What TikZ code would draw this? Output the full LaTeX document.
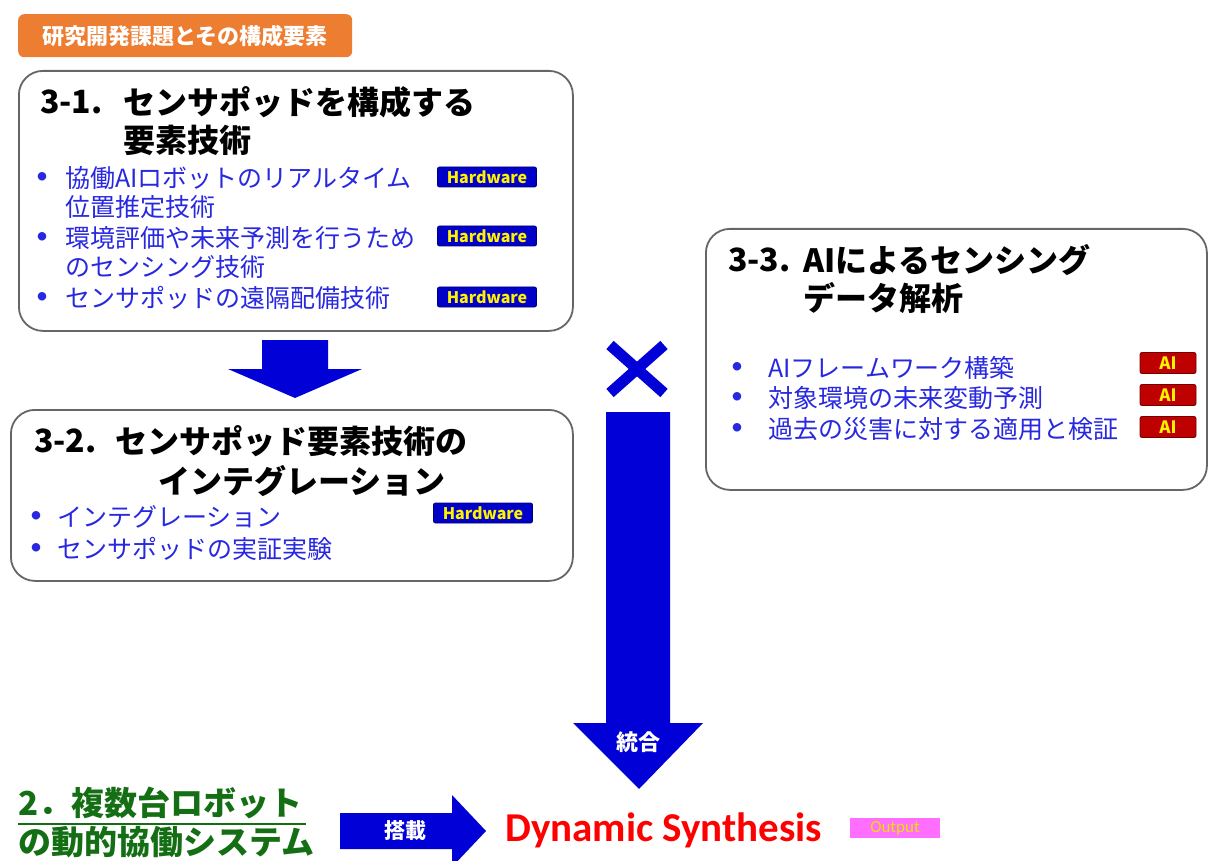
\documentclass[tikz,border=0pt]{standalone}
\usepackage{fontspec}
\newfontfamily\jp{Noto Sans CJK JP}
\newfontfamily\lat{Carlito}
\definecolor{hwblue}{RGB}{0,0,200}
\definecolor{aired}{RGB}{190,0,0}
\definecolor{itemblue}{RGB}{40,40,225}
\definecolor{arrowblue}{RGB}{0,0,215}
\definecolor{tagorange}{RGB}{237,125,49}
\definecolor{dkgreen}{RGB}{20,110,20}
\definecolor{outpink}{RGB}{255,110,255}
\definecolor{outyellow}{RGB}{235,225,0}
\tikzset{
  box/.style={draw=black!60, line width=1.8pt, rounded corners=24pt, fill=white, anchor=north west, inner sep=0pt},
  hw/.style={fill=hwblue, draw=hwblue!60!black, line width=0.8pt, rounded corners=2pt, minimum width=99pt, minimum height=20pt, inner sep=0pt, text=yellow, font=\jp\bfseries\fontsize{16}{16}\selectfont},
  aib/.style={fill=aired, draw=aired!60!black, line width=0.8pt, rounded corners=2pt, minimum width=56pt, minimum height=21pt, inner sep=0pt, text=yellow, font=\jp\bfseries\fontsize{17}{17}\selectfont},
  ttl/.style={anchor=west, inner sep=0pt, font=\jp\bfseries\fontsize{32}{32}\selectfont},
  item/.style={anchor=west, inner sep=0pt, text=itemblue, font=\jp\fontsize{25}{25}\selectfont},
  bul/.style={anchor=center, inner sep=0pt, text=itemblue, font=\lat\fontsize{24}{24}\selectfont},
  blk/.style={fill=arrowblue, draw=none},
  wlabel/.style={inner sep=0pt, text=white, font=\jp\bfseries\fontsize{22}{22}\selectfont},
  grn/.style={anchor=west, inner sep=0pt, text=dkgreen, font=\jp\bfseries\fontsize{33}{33}\selectfont},
}
\begin{document}
\begin{tikzpicture}[x=1pt,y=-1pt]
\useasboundingbox (0,0) rectangle (1208,861);

% tag
\node[fill=tagorange, rounded corners=6pt, anchor=north west, minimum width=334pt, minimum height=43pt, inner sep=0pt] (tag) at (18,14) {};
\node[inner sep=0pt, text=white, font=\jp\bfseries\fontsize{22}{22}\selectfont] (tagt) at (tag.center) {研究開発課題とその構成要素};

% box 3-1
\node[box, minimum width=554pt, minimum height=260pt] (b1) at (18,70) {};
\node[ttl] (b1n) at (40,102) {3-1.};
\node[ttl] (b1t1) at (123,102) {センサポッドを構成する};
\node[ttl] (b1t2) at (123,140) {要素技術};
\node[bul] (b1u1) at (42,178) {•};
\node[item] (b1i1) at (65,178) {協働AIロボットのリアルタイム};
\node[item] (b1i1b) at (65,207) {位置推定技術};
\node[bul] (b1u2) at (42,238) {•};
\node[item] (b1i2) at (65,238) {環境評価や未来予測を行うため};
\node[item] (b1i2b) at (65,267) {のセンシング技術};
\node[bul] (b1u3) at (42,298) {•};
\node[item] (b1i3) at (65,298) {センサポッドの遠隔配備技術};
\node[hw] (hw1) at (487,177) {Hardware};
\node[hw] (hw2) at (487,236) {Hardware};
\node[hw] (hw3) at (487,297) {Hardware};

% arrow b1 -> b2
\fill[blk] (262,340) -- (328,340) -- (328,369) -- (362,369) -- (295,398) -- (228,369) -- (262,369) -- cycle;

% box 3-2
\node[box, minimum width=562pt, minimum height=171pt] (b2) at (10,409) {};
\node[ttl] (b2n) at (34,441) {3-2.};
\node[ttl] (b2t1) at (115,441) {センサポッド要素技術の};
\node[ttl] (b2t2) at (158,481) {インテグレーション};
\node[bul] (b2u1) at (36,517) {•};
\node[item] (b2i1) at (57,517) {インテグレーション};
\node[bul] (b2u2) at (36,549) {•};
\node[item] (b2i2) at (57,549) {センサポッドの実証実験};
\node[hw] (hw4) at (483,513) {Hardware};

% cross
\draw[arrowblue, line width=11pt] (610,345) -- (664,393) (664,345) -- (610,393);

% big vertical arrow
\fill[blk] (606,412) -- (670,412) -- (670,723) -- (703,723) -- (639,789) -- (573,723) -- (606,723) -- cycle;
\node[wlabel] (tougou) at (638,742) {統合};

% box 3-3
\node[box, minimum width=501pt, minimum height=261pt] (b3) at (705,228) {};
\node[ttl] (b3n) at (728,260) {3-3.};
\node[ttl] (b3t1) at (803,260) {AIによるセンシング};
\node[ttl] (b3t2) at (803,298) {データ解析};
\node[bul] (b3u1) at (737,368) {•};
\node[item] (b3i1) at (768,368) {AIフレームワーク構築};
\node[bul] (b3u2) at (737,398) {•};
\node[item] (b3i2) at (768,398) {対象環境の未来変動予測};
\node[bul] (b3u3) at (737,429) {•};
\node[item] (b3i3) at (768,429) {過去の災害に対する適用と検証};
\node[aib] (ai1) at (1168,363) {AI};
\node[aib] (ai2) at (1168,395) {AI};
\node[aib] (ai3) at (1168,427) {AI};

% green text
\node[grn] (g1) at (18,803) {2．複数台ロボット};
\node[grn] (g2) at (18,842) {の動的協働システム};
\draw[dkgreen, line width=2pt] (g1.south west) ++(0,5) -- ++(288,0);
\draw[dkgreen, line width=2pt] (g2.south west) ++(0,5) -- ++(288,0);

% right arrow
\fill[blk] (340,813) -- (452,813) -- (452,795) -- (486,831) -- (452,867) -- (452,849) -- (340,849) -- cycle;
\node[wlabel, font=\jp\bfseries\fontsize{21}{21}\selectfont] (tousai) at (405,831) {搭載};

% output
\node[anchor=west, inner sep=0pt, text=red, font=\lat\bfseries\fontsize{41}{41}\selectfont] (ds) at (505,830) {Dynamic Synthesis};
\node[fill=outpink, minimum width=90pt, minimum height=20pt, inner sep=0pt, text=outyellow, font=\lat\fontsize{17}{17}\selectfont] (out) at (895,828) {Output};
\end{tikzpicture}
\end{document}
